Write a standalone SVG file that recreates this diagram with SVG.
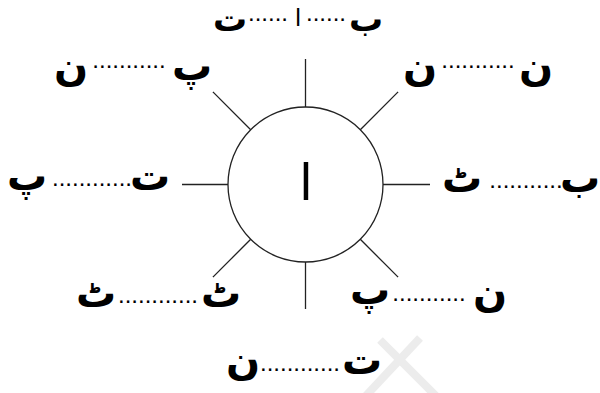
<svg xmlns="http://www.w3.org/2000/svg" width="600" height="393" viewBox="0 0 600 393">
<style>
.l{font-family:"DejaVu Sans",sans-serif;font-size:40px;font-weight:bold;fill:#000;text-anchor:middle}
.t{font-size:34px}
.d{font-family:"Liberation Sans",sans-serif;font-size:24px;fill:#000;text-anchor:middle}
.c{fill:none;stroke:#222;stroke-width:1.3}
</style>
<g id="watermark" fill="none" stroke="#ececec" stroke-width="8">
<line x1="380" y1="340" x2="440" y2="400"/>
<line x1="420" y1="338" x2="362" y2="400"/>
</g>
<g id="connectors" class="c">
<line x1="305.5" y1="107" x2="305.5" y2="59"/>
<line x1="305.5" y1="262" x2="305.5" y2="309"/>
<line x1="228" y1="184.5" x2="182" y2="184.5"/>
<line x1="383" y1="184.5" x2="430" y2="184.5"/>
<line x1="250.7" y1="129.7" x2="212.9" y2="91.9"/>
<line x1="360.3" y1="129.7" x2="398.1" y2="91.9"/>
<line x1="250.7" y1="239.3" x2="212.9" y2="277.1"/>
<line x1="360.3" y1="239.3" x2="398.1" y2="277.1"/>
</g>
<g id="center">
<circle cx="305.5" cy="184.5" r="77.5" class="c"/>
<text class="l" x="306" y="200" style="font-size:50px;font-weight:normal">ا</text>
</g>
<g id="n-top">
<text class="l t" x="230" y="31">ت</text>
<text class="d" x="268" y="21">......</text>
<text class="l" x="298" y="26" style="font-size:24px;font-weight:normal">ا</text>
<text class="d" x="326" y="21">......</text>
<text class="l t" x="366" y="31">ب</text>
</g>
<g id="n-upper-left">
<text class="l" x="71" y="80">ن</text>
<text class="d" x="129" y="68">...........</text>
<text class="l" x="192" y="80">پ</text>
</g>
<g id="n-upper-right">
<text class="l" x="420" y="80">ن</text>
<text class="d" x="478" y="68">...........</text>
<text class="l" x="536" y="80">ن</text>
</g>
<g id="n-left">
<text class="l" x="27" y="190">پ</text>
<text class="d" x="92" y="186">............</text>
<text class="l" x="150" y="190">ت</text>
</g>
<g id="n-right">
<text class="l" x="462" y="192">ٹ</text>
<text class="d" x="526" y="188">...........</text>
<text class="l" x="580" y="192">ب</text>
</g>
<g id="n-lower-left">
<text class="l" x="96" y="307">ٹ</text>
<text class="d" x="158" y="303">............</text>
<text class="l" x="221" y="307">ٹ</text>
</g>
<g id="n-lower-right">
<text class="l" x="370" y="304">پ</text>
<text class="d" x="429" y="301">...........</text>
<text class="l" x="490" y="306">ن</text>
</g>
<g id="n-bottom">
<text class="l" x="243" y="374">ن</text>
<text class="d" x="300" y="371">............</text>
<text class="l" x="362" y="374">ت</text>
</g>
</svg>
